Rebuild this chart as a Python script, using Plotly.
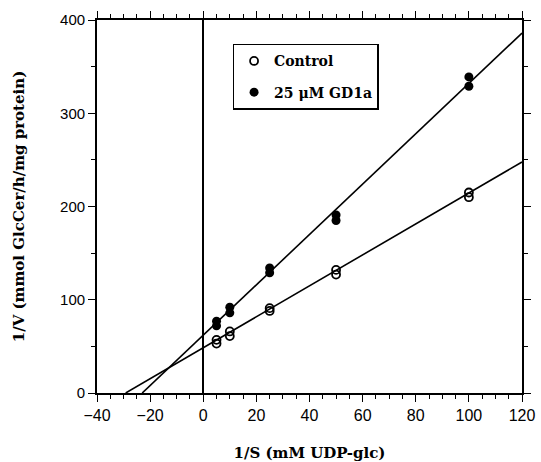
import plotly.graph_objects as go

# Data
x_inv_s = [5, 5, 10, 10, 25, 25, 50, 50, 100, 100]
control_inv_v = [53, 57, 61, 66, 88, 91, 127, 132, 210, 215]
gd1a_inv_v = [72, 77, 86, 92, 129, 134, 185, 191, 329, 339]

# Fitted lines (slope, intercept) and x-extent
control_line = (1.66, 48.5)
gd1a_line = (2.70, 62.0)
control_line_x = [-29.2, 120]
gd1a_line_x = [-23.0, 120]

fig = go.Figure()

def line_y(params, xs):
    m, b = params
    return [m * x + b for x in xs]

fig.add_trace(go.Scatter(x=control_line_x, y=line_y(control_line, control_line_x),
                         mode="lines", line=dict(color="black", width=1.6),
                         showlegend=False, hoverinfo="skip"))
fig.add_trace(go.Scatter(x=gd1a_line_x, y=line_y(gd1a_line, gd1a_line_x),
                         mode="lines", line=dict(color="black", width=1.6),
                         showlegend=False, hoverinfo="skip"))

fig.add_trace(go.Scatter(x=x_inv_s, y=control_inv_v, mode="markers", name="<b>Control</b>",
                         legendgroup="a",
                         marker=dict(symbol="circle-open", size=8, color="black",
                                     line=dict(width=1.8, color="black"))))
fig.add_trace(go.Scatter(x=x_inv_s, y=gd1a_inv_v, mode="markers", name="<b>25 \u03bcM GD1a</b>",
                         legendgroup="b",
                         marker=dict(symbol="circle", size=9, color="black")))

serif = "DejaVu Serif, Liberation Serif, serif"
sans = "Liberation Sans, Arial, sans-serif"

fig.update_xaxes(range=[-40, 120], tickmode="linear", tick0=-40, dtick=20,
                 ticks="outside", ticklen=7, tickwidth=1.4, tickcolor="black",
                 showline=True, linecolor="black", linewidth=1.8, mirror="ticks",
                 showgrid=False, zeroline=True, zerolinecolor="black", zerolinewidth=1.5,
                 minor=dict(tickmode="linear", tick0=-40, dtick=5, ticks="outside", ticklen=4,
                            tickcolor="black", tickwidth=1.4),
                 tickfont=dict(family=sans, size=16, color="black"),
                 title=dict(text="<b>1/S (mM UDP-glc)</b>",
                            font=dict(family=serif, size=15, color="black"), standoff=24))
fig.update_yaxes(range=[0, 400], tickmode="linear", tick0=0, dtick=100,
                 ticks="outside", ticklen=7, tickwidth=1.4, tickcolor="black",
                 showline=True, linecolor="black", linewidth=1.8, mirror="ticks",
                 showgrid=False, zeroline=False,
                 minor=dict(tickmode="linear", tick0=0, dtick=50, ticks="outside", ticklen=4,
                            tickcolor="black", tickwidth=1.4),
                 tickfont=dict(family=sans, size=15, color="black"),
                 title=dict(text="<b>1/V (mmol GlcCer/h/mg protein)</b>",
                            font=dict(family=serif, size=15, color="black"), standoff=32))

fig.update_layout(
    width=541, height=462,
    margin=dict(l=97, r=19, t=20, b=69, autoexpand=False),
    plot_bgcolor="white", paper_bgcolor="white",
    legend=dict(x=0.319, y=0.936, xanchor="left", yanchor="top",
                bordercolor="black", borderwidth=1.5, bgcolor="white",
                font=dict(family=serif, size=14, color="black"),
                tracegroupgap=10),
)

fig.write_html("out.html", config={"displayModeBar": False},
               post_script="document.body.style.margin='0';document.body.style.overflow='hidden';")
